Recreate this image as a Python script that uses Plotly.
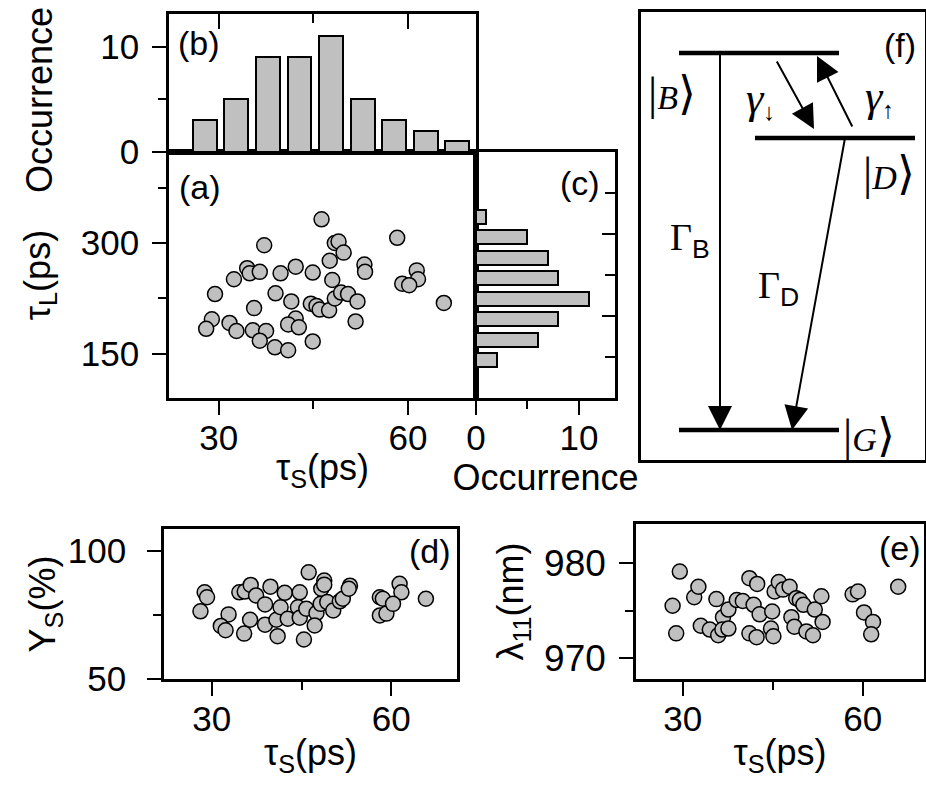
import plotly.graph_objects as go

W, H = 926, 794
FONT = "Liberation Sans, Arial, sans-serif"
SERIF = "Liberation Serif, Times New Roman, serif"
GRAY = "#c0c0c0"

# ---------------- data ----------------
# (a) tau_S (ps) vs tau_L (ps)
a_tau_s = [46.3, 37.2, 58.3, 48.4, 49.0, 49.8, 47.6, 34.5, 34.9, 36.5, 32.4, 39.8, 42.2, 44.9,
           53.1, 53.2, 48.0, 61.4, 61.6, 59.1, 60.2, 29.4, 39.0, 41.5, 35.6, 44.6, 45.5, 46.0,
           47.5, 48.4, 49.4, 50.5, 52.0, 51.7, 65.7, 28.9, 28.0, 31.7, 32.8, 35.4, 37.5, 36.5,
           38.9, 41.0, 42.2, 41.0, 42.7, 44.9]
a_tau_l = [332, 297, 307, 300, 302, 287, 276, 266, 259, 261, 251, 259, 268, 260,
           271, 261, 250, 263, 251, 245, 243, 231, 232, 221, 212, 218, 215, 210,
           209, 225, 233, 231, 221, 194, 219, 197, 184, 192, 181, 182, 181, 168,
           159, 155, 198, 190, 186, 167]

# (b) histogram of tau_S
b_tau_s_bins = [27.8, 32.8, 37.8, 42.8, 47.8, 52.8, 57.8, 62.8, 67.8]
b_counts = [3, 5, 9, 9, 11, 5, 3, 2, 1]

# (c) histogram of tau_L
c_tau_l_bins = [146, 171, 196, 221, 246, 271, 296, 321]
c_counts = [2, 6, 8, 11, 8, 7, 5, 1]

# (d) tau_S vs Y_S (%)
d_tau_s = [28.8, 29.2, 28.1, 32.8, 31.5, 32.3, 34.6, 35.5, 36.5, 37.4, 36.4, 35.4, 38.9, 39.8,
           38.9, 40.8, 41.0, 41.5, 42.2, 42.7, 44.7, 44.4, 44.7, 45.8, 45.4, 46.2, 47.5, 47.2,
           48.2, 48.3, 48.8, 48.8, 49.3, 50.3, 51.4, 51.9, 53.1, 52.9, 58.1, 58.1, 58.6, 59.2,
           61.4, 61.7, 60.3, 65.8]
d_ys = [83.8, 81.9, 76.4, 75.2, 70.7, 69.0, 83.8, 84.1, 86.7, 82.6, 73.1, 67.7, 79.1, 86.0,
        71.2, 73.1, 66.7, 78.0, 83.6, 73.5, 83.8, 78.0, 73.9, 77.4, 65.4, 91.6, 75.7, 70.9,
        79.3, 85.2, 88.4, 86.8, 80.0, 76.7, 80.3, 81.3, 86.4, 85.2, 81.9, 74.8, 81.3, 75.5,
        87.1, 83.8, 79.3, 81.3]

# (e) tau_S vs lambda_11 (nm)
e_tau_s = [29.5, 28.3, 28.9, 31.9, 32.6, 33.0, 34.5, 35.6, 35.9, 36.7, 36.6, 37.6, 37.6, 39.0,
           40.0, 41.1, 42.4, 41.8, 42.8, 41.1, 42.3, 44.9, 44.7, 45.1, 45.3, 46.0, 46.7, 47.8,
           48.9, 49.5, 50.1, 48.1, 48.6, 50.6, 51.7, 52.0, 53.1, 53.3, 58.3, 59.2, 60.2, 61.7,
           61.4, 65.9]
e_lambda = [979.1, 975.5, 972.6, 976.4, 977.5, 973.4, 973.0, 976.2, 972.4, 974.3, 973.0, 973.1,
            975.1, 976.1, 976.0, 978.4, 977.8, 975.6, 974.6, 972.6, 972.2, 974.9, 973.1, 972.3,
            977.0, 978.0, 977.2, 977.5, 976.3, 976.1, 975.6, 974.3, 973.3, 972.8, 972.4, 975.1,
            976.5, 973.8, 976.7, 977.0, 974.8, 973.8, 972.5, 977.5]

# ---------------- helpers ----------------
def xd(x0, x1):
    return [x0 / W, x1 / W]

def yd(y0, y1):
    return [1 - y1 / H, 1 - y0 / H]

def px(x):
    return x / W

def py(y):
    return 1 - y / H

marker = dict(size=15, color=GRAY, line=dict(color="black", width=1.5))
barstyle = dict(color=GRAY, line=dict(color="black", width=2))

fig = go.Figure()
fig.add_trace(go.Scatter(x=a_tau_s, y=a_tau_l, mode="markers", marker=marker,
                         xaxis="x", yaxis="y", showlegend=False))
fig.add_trace(go.Bar(x=b_tau_s_bins, y=b_counts, width=3.8, marker=barstyle,
                     xaxis="x2", yaxis="y2", showlegend=False))
fig.add_trace(go.Bar(y=c_tau_l_bins, x=c_counts, width=17.5, orientation="h", marker=barstyle,
                     xaxis="x3", yaxis="y3", showlegend=False))
fig.add_trace(go.Scatter(x=d_tau_s, y=d_ys, mode="markers", marker=marker,
                         xaxis="x4", yaxis="y4", showlegend=False))
fig.add_trace(go.Scatter(x=e_tau_s, y=e_lambda, mode="markers", marker=marker,
                         xaxis="x5", yaxis="y5", showlegend=False))

TICKF = dict(size=35, color="black", family=FONT)
TITLEF = dict(size=36, color="black", family=FONT)

def ax(domain, anchor, rng, tickvals=None, minor_vals=None, ticks="outside", side=None,
       labels=True, title=None, standoff=None, ticklen=14, minorlen=8, tickfont=None,
       lab_off=None):
    d = dict(domain=domain, anchor=anchor, range=rng, showline=True, linecolor="black",
             linewidth=2.5, mirror=True, showgrid=False, zeroline=False,
             tickcolor="black", tickwidth=2, ticklen=ticklen, ticks=ticks if tickvals else "",
             showticklabels=labels, tickfont=tickfont or TICKF, automargin=False,
             fixedrange=True)
    if tickvals:
        d["tickmode"] = "array"
        d["tickvals"] = tickvals
    else:
        d["showticklabels"] = False
    if minor_vals:
        d["minor"] = dict(tickmode="array", tickvals=minor_vals, ticks=ticks,
                          ticklen=minorlen, tickwidth=2, tickcolor="black", showgrid=False)
    if side:
        d["side"] = side
    if lab_off is not None:
        d["ticklabelstandoff"] = lab_off
    if title:
        d["title"] = dict(text=title, font=TITLEF)
        if standoff is not None:
            d["title"]["standoff"] = standoff
    return d

TS = "τ<sub>S</sub>(ps)"
XOFF = -7   # x tick labels closer to the axis
YOFF = 6    # y tick labels a little farther from the axis

layout = dict(
    width=W, height=H, margin=dict(l=0, r=0, t=0, b=0),
    paper_bgcolor="white", plot_bgcolor="white", font=dict(family=FONT, color="black"),
    bargap=0, showlegend=False,
    # (a)
    xaxis=ax(xd(169, 476), "y", [22.1, 70.8], [30, 60], [45], title=TS, standoff=0,
             lab_off=XOFF),
    yaxis=ax(yd(152, 398), "x", [90.5, 423], [150, 300], [225, 375],
             title="τ<sub>L</sub>(ps)", standoff=20, lab_off=YOFF),
    # (b)
    xaxis2=ax(xd(169, 476), "y2", [22.1, 70.8], [30, 60], [45], ticks="inside", side="top",
              labels=False, ticklen=15, minorlen=9),
    yaxis2=ax(yd(14, 152), "x2", [0, 13.1], [0, 10], [5], lab_off=YOFF),
    # (c)
    xaxis3=ax(xd(476, 615), "y3", [0, 13.5], [0, 10], [5], title="Occurrence", standoff=0,
              lab_off=XOFF),
    yaxis3=ax(yd(152, 398), "x3", [100, 400], [200, 300], [150, 250, 350], ticks="inside",
              side="right", labels=False, ticklen=13, minorlen=10),
    # (d)
    xaxis4=ax(xd(164, 457), "y4", [22, 71], [30, 60], [45], title=TS, standoff=4,
              lab_off=XOFF),
    yaxis4=ax(yd(529, 679), "x4", [50, 108.5], [50, 100], [75],
              title="Y<sub>S</sub>(%)", standoff=0, lab_off=14),
    # (e)
    xaxis5=ax(xd(636, 924), "y5", [22.2, 70.2], [30, 60], [45], title=TS, standoff=4,
              lab_off=XOFF),
    yaxis5=ax(yd(524, 679), "x5", [967.8, 984.1], [970, 980], [975],
              title="λ<sub>11</sub>(nm)", standoff=10, lab_off=YOFF,
              tickfont=dict(size=37, color="black", family=FONT)),
    # (f) level diagram
    xaxis6=ax(xd(641, 925), "y6", [641, 925]),
    yaxis6=ax(yd(12, 460), "x6", [460, 12]),
)
fig.update_layout(**layout)

# title of (b)'s y axis, placed as in the reference (below the axis centre)
fig.add_annotation(x=px(40), y=py(100), xref="paper", yref="paper", text="Occurrence",
                   textangle=-90, showarrow=False, xanchor="center", yanchor="middle",
                   font=TITLEF)

# ---- (f) energy level diagram ----
levels = {"B": (679, 839, 53), "D": (755, 915, 138), "G": (679, 839, 430)}
for name, (x0, x1, yy) in levels.items():
    fig.add_shape(type="line", xref="x6", yref="y6", x0=x0, x1=x1, y0=yy, y1=yy,
                  line=dict(color="black", width=4.5))

arrows = [((720, 53), (720, 430)), ((845, 138), (792, 430)),
          ((776, 60), (814, 129)), ((853, 128), (817, 56))]
for (tx, ty), (hx, hy) in arrows:
    fig.add_annotation(x=hx, y=hy, ax=tx, ay=ty, xref="x6", yref="y6", axref="x6", ayref="y6",
                       text="", showarrow=True, arrowhead=2, arrowsize=2.4, arrowwidth=2,
                       arrowcolor="black")

def txt(x, y, text, size=34, family=FONT):
    fig.add_annotation(x=px(x), y=py(y), xref="paper", yref="paper", text=text,
                       showarrow=False, xanchor="center", yanchor="middle",
                       font=dict(size=size, color="black", family=family))

BIG = "<span style='font-size:46px'>%s</span>"
ket = lambda s: (BIG % "|") + "<i>%s</i>" % s + (BIG % "⟩")
txt(672, 93, ket("B"), 34, SERIF)
txt(889, 173, ket("D"), 34, SERIF)
txt(869, 435, ket("G"), 34, SERIF)
txt(760, 99, "<span style='font-size:44px'><i>γ</i></span><sub>↓</sub>", 34, SERIF)
txt(879, 98, "<span style='font-size:44px'><i>γ</i></span><sub>↑</sub>", 34, SERIF)
txt(690, 240, "<span style='font-family:Liberation Serif'>Γ</span><sub>B</sub>", 38)
txt(778, 288, "<span style='font-family:Liberation Serif'>Γ</span><sub>D</sub>", 38)

# panel labels
txt(900, 45, "(f)", 34)
txt(200, 187, "(a)", 34)
txt(199, 43, "(b)", 34)
txt(580, 183, "(c)", 34)
txt(430, 551, "(d)", 34)
txt(900, 548, "(e)", 34)

fig.write_html("out.html")
